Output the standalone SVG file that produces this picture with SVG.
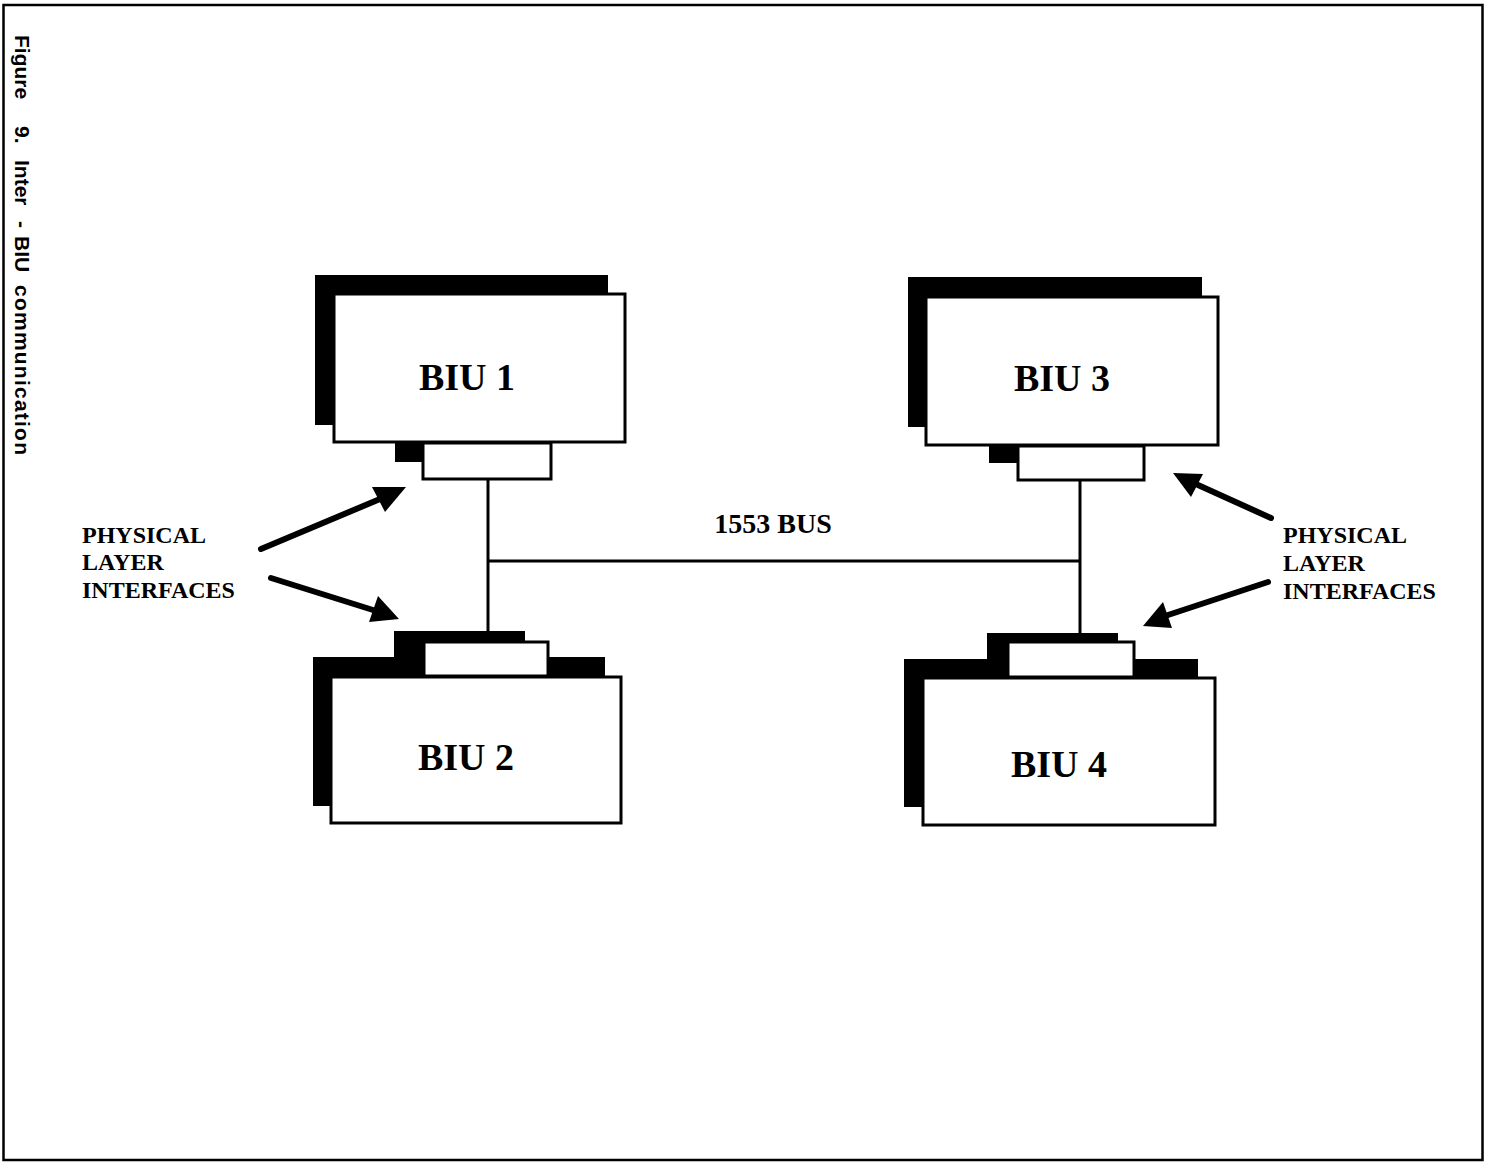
<svg xmlns="http://www.w3.org/2000/svg" width="1488" height="1165" viewBox="0 0 1488 1165">
  <defs>
    <style>
      .frame { fill: none; stroke: #000; stroke-width: 2.5; }
      .shadow { fill: #000; }
      .box { fill: #fff; stroke: #000; stroke-width: 3; }
      .wire { fill: none; stroke: #000; stroke-width: 3; }
      .pointer { fill: none; stroke: #000; stroke-width: 6; stroke-linecap: round; }
      .head { fill: #000; }
      .biu { font-family: "Liberation Serif", serif; font-weight: bold; font-size: 38px; fill: #000; }
      .bus { font-family: "Liberation Serif", serif; font-weight: bold; font-size: 28px; fill: #000; }
      .note { font-family: "Liberation Serif", serif; font-weight: bold; font-size: 24px; fill: #000; }
      .caption { font-family: "Liberation Sans", Arial, sans-serif; font-weight: bold; font-size: 21px; fill: #000; }
    </style>
  </defs>

  <rect x="0" y="0" width="1488" height="1165" fill="#fff"/>
  <rect class="frame" x="3.5" y="5" width="1479" height="1155"/>

  <!-- vertical figure caption -->
  <g id="caption" transform="rotate(90)">
    <text class="caption" y="-15"><tspan x="35">Figure</tspan><tspan x="126">9.</tspan><tspan x="160">Inter</tspan><tspan x="221">-</tspan><tspan x="236">BIU</tspan><tspan x="285" textLength="170">communication</tspan></text>
  </g>

  <!-- bus wiring -->
  <g id="connectors">
    <line class="wire" x1="488" y1="479" x2="488" y2="632"/>
    <line class="wire" x1="1080" y1="480" x2="1080" y2="634"/>
    <line class="wire" x1="488" y1="561" x2="1080" y2="561"/>
    <!-- left pointers -->
    <line class="pointer" x1="261" y1="549" x2="380" y2="499"/>
    <polygon class="head" points="406,487 372,487 385,512"/>
    <line class="pointer" x1="271" y1="578" x2="373" y2="610"/>
    <polygon class="head" points="399,619 378,596 369,622"/>
    <!-- right pointers -->
    <line class="pointer" x1="1271" y1="518" x2="1198" y2="485"/>
    <polygon class="head" points="1173,473 1191,497 1203,474"/>
    <line class="pointer" x1="1268" y1="582" x2="1168" y2="615"/>
    <polygon class="head" points="1143,626 1163,602 1172,628"/>
  </g>

  <g id="biu1">
    <rect class="shadow" x="315" y="275" width="293" height="150"/>
    <rect class="box" x="334" y="294" width="291" height="148"/>
    <rect class="shadow" x="395" y="442" width="30" height="20"/>
    <rect class="box" x="423" y="443" width="128" height="36"/>
    <text class="biu" x="467" y="390" text-anchor="middle">BIU 1</text>
  </g>

  <g id="biu2">
    <rect class="shadow" x="394" y="631" width="131" height="30"/>
    <rect class="shadow" x="313" y="657" width="292" height="149"/>
    <rect class="box" x="424" y="642" width="124" height="34"/>
    <rect class="box" x="331" y="677" width="290" height="146"/>
    <text class="biu" x="466" y="770" text-anchor="middle">BIU 2</text>
  </g>

  <g id="biu3">
    <rect class="shadow" x="908" y="277" width="294" height="150"/>
    <rect class="box" x="926" y="297" width="292" height="148"/>
    <rect class="shadow" x="989" y="445" width="31" height="18"/>
    <rect class="box" x="1018" y="446" width="126" height="34"/>
    <text class="biu" x="1062" y="391" text-anchor="middle">BIU 3</text>
  </g>

  <g id="biu4">
    <rect class="shadow" x="987" y="633" width="131" height="30"/>
    <rect class="shadow" x="904" y="659" width="294" height="148"/>
    <rect class="box" x="1008" y="642" width="126" height="35"/>
    <rect class="box" x="923" y="678" width="292" height="147"/>
    <text class="biu" x="1059" y="777" text-anchor="middle">BIU 4</text>
  </g>

  <g id="bus-label">
    <text class="bus" x="773" y="533" text-anchor="middle">1553 BUS</text>
  </g>

  <g id="label-left">
    <text class="note" x="82" y="543">PHYSICAL</text>
    <text class="note" x="82" y="570">LAYER</text>
    <text class="note" x="82" y="598">INTERFACES</text>
  </g>

  <g id="label-right">
    <text class="note" x="1283" y="543">PHYSICAL</text>
    <text class="note" x="1283" y="571">LAYER</text>
    <text class="note" x="1283" y="599">INTERFACES</text>
  </g>
</svg>
